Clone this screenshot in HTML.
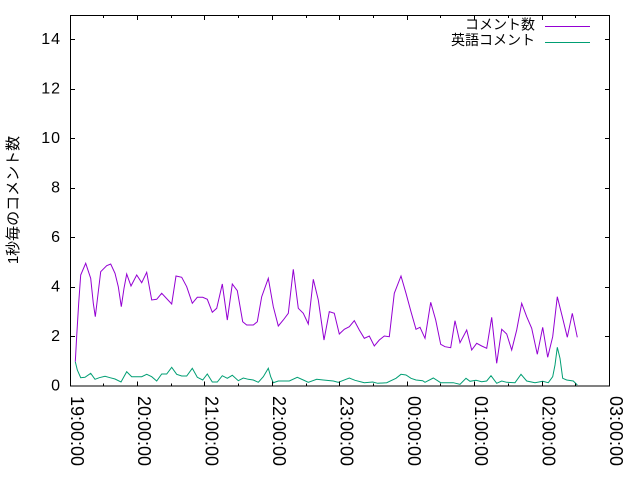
<!DOCTYPE html>
<html>
<head>
<meta charset="utf-8">
<style>
  html, body { margin: 0; padding: 0; background: #ffffff; }
  svg { display: block; }
  text { font-family: "Liberation Sans", "Noto Sans CJK JP", sans-serif; fill: #000; }
</style>
</head>
<body>
<svg width="640" height="480" viewBox="0 0 640 480" xmlns="http://www.w3.org/2000/svg">
  <rect x="0" y="0" width="640" height="480" fill="#ffffff"/>

  <!-- series -->
  <polyline fill="none" stroke="#9400d3" stroke-width="1" stroke-linejoin="miter"
    points="75.3,361.7 76.7,336 78.7,303 80.7,275 85.7,263.3 90.7,278.3 93.3,303.3 95.3,316.7 97.3,300 100.7,271.7 106.7,265.7 110.7,264 115,273.3 118.3,286.7 121.3,306.7 124,288.3 126.7,274 131,286 136.7,275 141.7,282.7 146.7,272.3 151.7,300 156.7,299.3 161.7,293.3 171.7,304 176,276 181.7,277.3 186.7,286.7 192.3,303.3 197.3,297.3 202.7,297.3 207.3,299.3 212.3,312.3 216.7,308.3 222.3,284 227.3,320 232.3,284 237.3,290.7 242.7,321.7 246.7,325 253.3,325 257.3,321.7 261.7,296.7 268.3,278.3 273.3,306.7 278.3,326 283.3,320 288.3,313.3 293.3,269.3 298.3,308.3 303.3,313.3 308.3,324 313.3,279.3 318.3,300 324,340 329.3,311.7 334.3,313.3 339.3,334 344.3,329.3 349.3,326.7 354.3,320.7 359.3,330 364.3,338.3 369.3,336 374.3,346 379.3,340 384.3,336 389.3,336.7 394.3,293.3 401,276 406,293.3 411,311.7 416,329.3 420,327.3 425,338.3 430.7,302.3 435.7,320 440.7,344.3 445,346.7 450.7,347.7 455,320.7 460,342.7 466.7,330 471.7,350 476.7,343.3 481.7,346 486.7,348.3 491.7,317.3 496.7,363.3 501.7,329.3 506.7,334 511.7,350 516.7,330 521.7,303.3 526.7,316.7 531.7,328.3 537.3,354.3 542.7,327.3 547.7,357.3 552.7,336.7 557.3,296.7 562.3,316.7 567.3,337.3 572.3,313.3 577.3,337.3"/>
  <polyline fill="none" stroke="#009e73" stroke-width="1" stroke-linejoin="miter"
    points="75.3,361.7 77.3,370 80.7,377.7 85,377.3 90.7,373.3 95,379.3 99.3,377.7 105,376.3 110,377.7 115,379 121,382 126.7,371.7 131.7,376.7 141.7,376.7 146.7,374.3 151.7,376.7 156.7,381 161.7,374 166.7,374 171.7,367.3 176.7,374.3 181.7,376 186.7,376 192.3,368.3 197.3,377.3 202.7,380 207.3,374 212.3,382 217.3,382 222.3,375.7 227.3,378.3 232.3,375.3 238.3,380.7 243.3,378 248.3,379.3 253.3,380 258.3,382.3 263.3,376.7 268.3,368.3 270.7,376.7 273.3,382.7 278.3,381 289.3,381 297.3,377.3 303.3,380 308.3,382.3 316.7,379.3 323.3,380 333.3,381 338.3,382.3 349.3,378 355,380.3 364.3,382.7 372.7,382 377.7,383.3 386.7,382.7 396,378.3 401,374.3 406,375 411,378.3 416,380 422.7,380.7 425,382.3 433.3,378 440.7,382.7 453.3,382.7 460,384.3 466,378.3 470,381.3 476,380.3 481.7,381.7 486.7,381 491,375.7 496.7,383.3 501.7,381 506.7,382.3 515,382.7 521,374.3 526.7,381 535,382.7 542.7,381.3 548.3,382.7 552.7,376.7 555,365 557.3,347.3 560,358.3 562.7,378.3 566.7,380 573.3,381 577.3,385"/>

  <!-- border -->
  <rect x="70.5" y="15.5" width="539" height="370.5" fill="none" stroke="#000" stroke-width="1"/>

  <!-- y ticks (left and right) -->
  <g stroke="#000" stroke-width="1">
    <line x1="70" y1="336.5" x2="75" y2="336.5"/><line x1="605" y1="336.5" x2="610" y2="336.5"/>
    <line x1="70" y1="287.5" x2="75" y2="287.5"/><line x1="605" y1="287.5" x2="610" y2="287.5"/>
    <line x1="70" y1="237.5" x2="75" y2="237.5"/><line x1="605" y1="237.5" x2="610" y2="237.5"/>
    <line x1="70" y1="188.5" x2="75" y2="188.5"/><line x1="605" y1="188.5" x2="610" y2="188.5"/>
    <line x1="70" y1="138.5" x2="75" y2="138.5"/><line x1="605" y1="138.5" x2="610" y2="138.5"/>
    <line x1="70" y1="89.5" x2="75" y2="89.5"/><line x1="605" y1="89.5" x2="610" y2="89.5"/>
    <line x1="70" y1="39.5" x2="75" y2="39.5"/><line x1="605" y1="39.5" x2="610" y2="39.5"/>
  </g>

  <!-- x ticks major (bottom and top) -->
  <g stroke="#000" stroke-width="1">
    <line x1="137.5" y1="386" x2="137.5" y2="381.5"/><line x1="137.5" y1="15.5" x2="137.5" y2="20"/>
    <line x1="204.5" y1="386" x2="204.5" y2="381.5"/><line x1="204.5" y1="15.5" x2="204.5" y2="20"/>
    <line x1="272.5" y1="386" x2="272.5" y2="381.5"/><line x1="272.5" y1="15.5" x2="272.5" y2="20"/>
    <line x1="339.5" y1="386" x2="339.5" y2="381.5"/><line x1="339.5" y1="15.5" x2="339.5" y2="20"/>
    <line x1="407.5" y1="386" x2="407.5" y2="381.5"/><line x1="407.5" y1="15.5" x2="407.5" y2="20"/>
    <line x1="474.5" y1="386" x2="474.5" y2="381.5"/><line x1="474.5" y1="15.5" x2="474.5" y2="20"/>
    <line x1="542.5" y1="386" x2="542.5" y2="381.5"/><line x1="542.5" y1="15.5" x2="542.5" y2="20"/>
  </g>
  <!-- x ticks minor -->
  <g stroke="#000" stroke-width="1">
    <line x1="103.5" y1="386" x2="103.5" y2="383.5"/><line x1="103.5" y1="15.5" x2="103.5" y2="18"/>
    <line x1="171.5" y1="386" x2="171.5" y2="383.5"/><line x1="171.5" y1="15.5" x2="171.5" y2="18"/>
    <line x1="238.5" y1="386" x2="238.5" y2="383.5"/><line x1="238.5" y1="15.5" x2="238.5" y2="18"/>
    <line x1="306.5" y1="386" x2="306.5" y2="383.5"/><line x1="306.5" y1="15.5" x2="306.5" y2="18"/>
    <line x1="373.5" y1="386" x2="373.5" y2="383.5"/><line x1="373.5" y1="15.5" x2="373.5" y2="18"/>
    <line x1="440.5" y1="386" x2="440.5" y2="383.5"/><line x1="440.5" y1="15.5" x2="440.5" y2="18"/>
    <line x1="508.5" y1="386" x2="508.5" y2="383.5"/><line x1="508.5" y1="15.5" x2="508.5" y2="18"/>
    <line x1="575.5" y1="386" x2="575.5" y2="383.5"/><line x1="575.5" y1="15.5" x2="575.5" y2="18"/>
  </g>

  <!-- y tick labels -->
  <g font-size="16" text-anchor="end" letter-spacing="1">
    <text x="61" y="390.3">0</text>
    <text x="61" y="340.8">2</text>
    <text x="61" y="291.4">4</text>
    <text x="61" y="241.9">6</text>
    <text x="61" y="192.4">8</text>
    <text x="61" y="143">10</text>
    <text x="61" y="93.5">12</text>
    <text x="61" y="44">14</text>
  </g>

  <!-- x tick labels (rotated) -->
  <g font-size="18">
    <text transform="translate(71,396) rotate(90)">19:00:00</text>
    <text transform="translate(138,396) rotate(90)">20:00:00</text>
    <text transform="translate(205.5,396) rotate(90)">21:00:00</text>
    <text transform="translate(273,396) rotate(90)">22:00:00</text>
    <text transform="translate(340.5,396) rotate(90)">23:00:00</text>
    <text transform="translate(408,396) rotate(90)">00:00:00</text>
    <text transform="translate(475,396) rotate(90)">01:00:00</text>
    <text transform="translate(542.5,396) rotate(90)">02:00:00</text>
    <text transform="translate(610,396) rotate(90)">03:00:00</text>
  </g>

  <!-- y axis title -->
  <text transform="translate(18,200) rotate(-90)" font-size="15" text-anchor="middle">1秒毎のコメント数</text>

  <!-- legend -->
  <text x="535" y="29.5" font-size="14" text-anchor="end">コメント数</text>
  <line x1="545" y1="26.5" x2="590" y2="26.5" stroke="#9400d3" stroke-width="1"/>
  <text x="535" y="45" font-size="14" text-anchor="end">英語コメント</text>
  <line x1="545" y1="42.5" x2="590" y2="42.5" stroke="#009e73" stroke-width="1"/>
</svg>
</body>
</html>
